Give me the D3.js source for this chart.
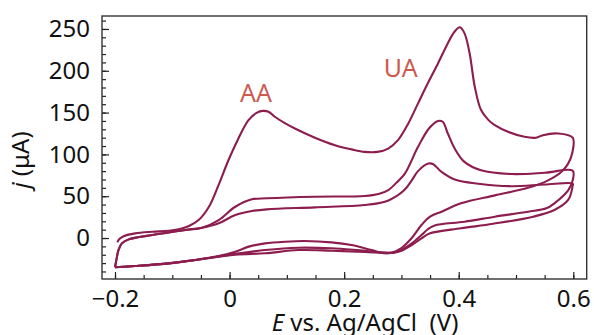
<!DOCTYPE html>
<html>
<head>
<meta charset="UTF-8">
<title>CV AA / UA</title>
<script src="https://cdn.jsdelivr.net/npm/d3@7"></script>
<style>
  body { margin: 0; background: #fff; }
  svg { display: block; font-family: "Noto Sans", "Open Sans", sans-serif; }
</style>
</head>
<body>
<div id="chart"></div>
<script>
// potential (V) / current (uA) pairs, one array per scan branch
var highForward = [[-0.196,-5],[-0.192,-1],[-0.184,2.5],[-0.165,5.6],[-0.135,7.5],[-0.106,8.7],[-0.085,11],[-0.071,14.4],
  [-0.054,21.5],[-0.036,37.4],[-0.020,62],[-0.002,93],[0.014,117],[0.033,141],[0.048,150],[0.058,152],[0.068,151],
  [0.079,145],[0.095,138],[0.114,131],[0.149,120],[0.184,111],[0.213,106],[0.236,103],[0.258,103],[0.277,107],
  [0.294,117],[0.312,137],[0.329,161],[0.346,185],[0.364,209],[0.381,233],[0.393,247],[0.402,252],[0.410,245],
  [0.419,221],[0.428,181],[0.439,153],[0.452,141],[0.463,135],[0.486,127],[0.515,121],[0.535,120],[0.547,123],
  [0.573,125],[0.599,120]];
var highReverse = [[0.599,120],[0.598,101],[0.591,89],[0.579,79],[0.556,69],[0.521,60],[0.463,51],[0.404,41.5],
  [0.370,31.5],[0.350,25.5],[0.335,15.5],[0.318,0],[0.300,-12],[0.283,-17.5],[0.271,-18.3],[0.248,-14.4],
  [0.213,-8.4],[0.178,-5.2],[0.131,-3.6],[0.097,-4.4],[0.062,-6.4],[0.035,-10],[0.010,-16.3],[-0.019,-21.5],
  [-0.060,-26.3],[-0.106,-30.3],[-0.165,-33.5],[-0.200,-35]];

var midForward = [[-0.200,-35],[-0.197,-24],[-0.194,-14.4],[-0.188,-6.4],[-0.176,-1.6],[-0.135,3.6],[-0.077,9.6],
  [-0.048,12.3],[-0.019,21.5],[0.010,37.4],[0.039,46.3],[0.065,47.5],[0.149,49.4],[0.236,50.2],[0.260,52.6],
  [0.277,57.4],[0.294,68],[0.306,77],[0.329,109],[0.348,131],[0.364,140],[0.372,139],[0.381,125],[0.393,107],
  [0.410,91],[0.439,81],[0.492,76.5],[0.550,78],[0.599,80.5]];
var midReverse = [[0.599,80.5],[0.599,69],[0.591,57],[0.567,41.5],[0.553,35.5],[0.521,31.5],[0.463,25.5],
  [0.410,19.5],[0.358,15],[0.346,10.5],[0.335,3.6],[0.318,-6.4],[0.300,-14.4],[0.286,-17.5],[0.236,-15.2],
  [0.178,-12.3],[0.120,-11.6],[0.062,-14.4],[0.010,-19],[-0.060,-26.3],[-0.106,-30.3],[-0.165,-33.5],[-0.200,-35]];

var lowForward = [[-0.200,-35],[-0.197,-24],[-0.194,-14.4],[-0.188,-6.4],[-0.176,-1.6],[-0.135,3.6],[-0.077,9.6],
  [-0.048,12.3],[-0.019,17.6],[0.010,27.5],[0.039,32.3],[0.065,34.3],[0.149,36.7],[0.236,39.5],[0.271,43.4],
  [0.294,51.4],[0.306,58],[0.318,69],[0.329,80],[0.347,89],[0.355,88.5],[0.370,79],[0.393,70],[0.434,65],
  [0.492,62],[0.550,64],[0.599,65]];
var lowReverse = [[0.599,65],[0.599,63],[0.591,45.5],[0.567,33.5],[0.530,25.5],[0.460,17],[0.404,11.6],
  [0.350,5.6],[0.335,-0.4],[0.318,-8.4],[0.300,-15.2],[0.286,-17.5],[0.236,-16.7],[0.178,-15.2],[0.120,-14.4],
  [0.062,-18.3],[0.010,-20],[-0.060,-26.3],[-0.106,-30.3],[-0.165,-33.5],[-0.200,-35]];

var xTicks = [-0.2, 0, 0.2, 0.4, 0.6];
var xTickLabels = ["\u22120.2", "0", "0.2", "0.4", "0.6"];
var yTicks = [0, 50, 100, 150, 200, 250];
var peakLabels = [{text: "AA", e: 0.046, j: 163}, {text: "UA", e: 0.299, j: 192}];

var width = 594, height = 335;
var margin = {top: 16, right: 7.3, bottom: 56, left: 102};

var svg = d3.select("#chart").append("svg")
    .attr("width", width).attr("height", height);

var x = d3.scaleLinear().domain([-0.2227, 0.6234]).range([margin.left, width - margin.right]);
var y = d3.scaleLinear().domain([-49, 265.5]).range([height - margin.bottom, margin.top]);

var lineColor = "#8c1d4e", noteColor = "#cc5a50";

// minor ticks
svg.append("g")
    .attr("transform", "translate(0," + y.range()[0] + ")")
    .call(d3.axisBottom(x).tickValues(d3.range(-0.2, 0.601, 0.05)).tickSize(-4).tickFormat(""))
    .call(function (g) { g.select(".domain").remove(); });
svg.append("g")
    .attr("transform", "translate(" + x.range()[0] + ",0)")
    .call(d3.axisLeft(y).tickValues(d3.range(-40, 261, 10)).tickSize(-4).tickFormat(""))
    .call(function (g) { g.select(".domain").remove(); });

// major ticks + labels
var xAxis = svg.append("g")
    .attr("transform", "translate(0," + y.range()[0] + ")")
    .call(d3.axisBottom(x).tickValues(xTicks).tickSize(-7).tickPadding(11)
        .tickFormat(function (d, i) { return xTickLabels[i]; }));
var yAxis = svg.append("g")
    .attr("transform", "translate(" + x.range()[0] + ",0)")
    .call(d3.axisLeft(y).tickValues(yTicks).tickSize(-7).tickPadding(12));

[xAxis, yAxis].forEach(function (g) {
    g.select(".domain").remove();
    g.selectAll("text").attr("fill", "#111").style("font-size", "24px")
        .style("font-family", "'Noto Sans', sans-serif");
});
svg.selectAll(".tick line").attr("stroke", "#222").attr("stroke-width", 1.2);

// frame
svg.append("rect")
    .attr("x", x.range()[0]).attr("y", y.range()[1])
    .attr("width", x.range()[1] - x.range()[0])
    .attr("height", y.range()[0] - y.range()[1])
    .attr("fill", "none").attr("stroke", "#333").attr("stroke-width", 1.4);

var line = d3.line()
    .x(function (d) { return x(d[0]); })
    .y(function (d) { return y(d[1]); })
    .curve(d3.curveCatmullRom.alpha(0.5));

var cycles = [
    highForward.concat(highReverse.slice(1)),
    midForward.concat(midReverse.slice(1)),
    lowForward.concat(lowReverse.slice(1))
];

svg.selectAll(".cv").data(cycles).enter().append("path")
    .attr("class", "cv")
    .attr("d", line)
    .attr("fill", "none")
    .attr("stroke", lineColor)
    .attr("stroke-width", 2.1)
    .attr("stroke-linejoin", "round");

svg.selectAll(".peak").data(peakLabels).enter().append("text")
    .attr("class", "peak")
    .attr("x", function (d) { return x(d.e); })
    .attr("y", function (d) { return y(d.j); })
    .attr("text-anchor", "middle")
    .attr("fill", noteColor)
    .style("font-size", "25px")
    .text(function (d) { return d.text; });

// axis titles
var xt = svg.append("text")
    .attr("x", 365).attr("y", 331)
    .attr("text-anchor", "middle")
    .attr("fill", "#111")
    .style("font-size", "24px");
xt.append("tspan").style("font-style", "italic").text("E");
xt.append("tspan").text(" vs. Ag/AgCl\u00a0\u00a0(V)");

var yt = svg.append("text")
    .attr("transform", "translate(28.5,160) rotate(-90)")
    .attr("text-anchor", "middle")
    .attr("fill", "#111")
    .style("font-size", "24px");
yt.append("tspan").style("font-style", "italic").text("j");
yt.append("tspan").text(" (\u03bcA)");
</script>
</body>
</html>
